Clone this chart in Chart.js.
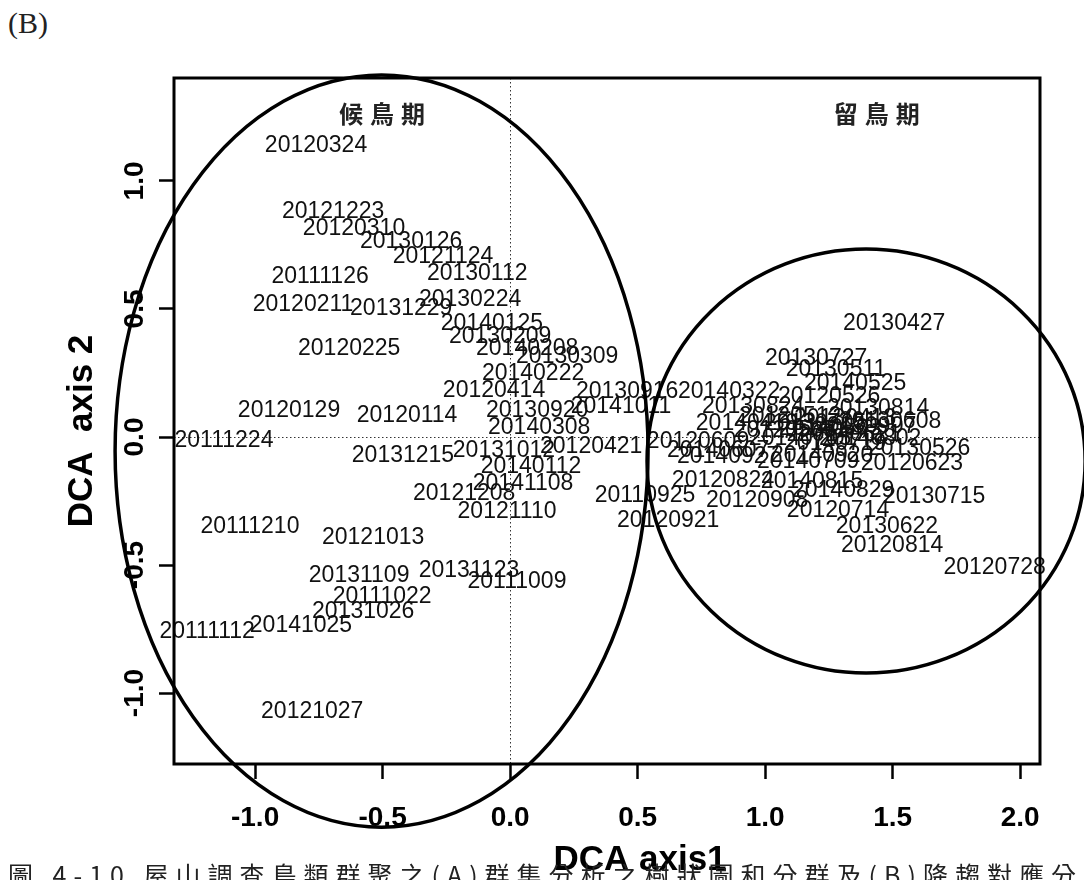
<!DOCTYPE html>
<html>
<head>
<meta charset="utf-8">
<title>DCA ordination of bird survey dates</title>
<script src="https://cdn.jsdelivr.net/npm/chart.js@4.4.1/dist/chart.umd.min.js"></script>
<style>
    html, body {
        margin: 0;
        padding: 0;
        background: #fff;
        overflow: hidden;
    }
    body {
        width: 1084px;
        height: 880px;
        position: relative;
    }
    canvas {
        position: absolute;
        left: 0;
        top: 0;
    }
    #panel {
        position: absolute;
        left: 8px;
        top: 6px;
        font-family: "Liberation Serif", serif;
        font-size: 30px;
        color: #222;
    }
    #caption {
        position: absolute;
        left: 8px;
        top: 856px;
        font-family: "Noto Sans CJK TC", sans-serif;
        font-size: 25px;
        letter-spacing: 7px;
        white-space: nowrap;
        color: #222;
    }
</style>
</head>
<body>
<div id="panel">(B)</div>
<canvas id="dcaChart" width="1084" height="880"></canvas>
<div id="caption">圖 4-10 屋山調查鳥類群聚之(A)群集分析之樹狀圖和分群及(B)降趨對應分析</div>
<script>
// survey dates and their site scores on DCA axes 1 and 2
const siteDates = [
    '20120324', '20121223', '20120310', '20130126', '20121124', '20130112',
    '20111126', '20120211', '20131229', '20130224', '20140125', '20130209',
    '20140208', '20130309', '20120225', '20140222', '20120414', '20120129',
    '20120114', '20130920', '20140308', '20111224', '20131215', '20131012',
    '20140112', '20141108', '20121208', '20121110', '20111210', '20121013',
    '20131109', '20131123', '20111009', '20111022', '20131026', '20141025',
    '20111112', '20121027', '20130916', '20141011', '20120421', '20110925',
    '20120921', '20140322', '20130427', '20130727', '20130511', '20140525',
    '20120526', '20130824', '20130814', '20130608', '20140419', '20120505',
    '20120512', '20130705', '20140503', '20130413', '20140621', '20130907',
    '20140705', '20140719', '20140802', '20120609', '20140607', '20140927',
    '20140709', '20140920', '20130526', '20120623', '20120824', '20140815',
    '20140829', '20120908', '20130715', '20120714', '20130622', '20120814',
    '20120728'
];
const axis1 = [
    -0.761, -0.694, -0.612, -0.388, -0.263, -0.129,
    -0.745, -0.812, -0.427, -0.157, -0.071, -0.039,
    0.067, 0.224, -0.631, 0.090, -0.063, -0.867,
    -0.404, 0.106, 0.114, -1.122, -0.420, -0.024,
    0.082, 0.051, -0.180, -0.012, -1.020, -0.537,
    -0.592, -0.161, 0.027, -0.502, -0.576, -0.820,
    -1.188, -0.776, 0.459, 0.435, 0.318, 0.529,
    0.620, 0.859, 1.506, 1.200, 1.278, 1.353,
    1.251, 0.953, 1.443, 1.490, 0.929, 1.078,
    1.098, 1.196, 1.255, 1.314, 1.333, 1.392,
    1.137, 1.275, 1.412, 0.737, 0.816, 0.855,
    1.169, 1.224, 1.604, 1.576, 0.835, 1.184,
    1.306, 0.969, 1.663, 1.286, 1.478, 1.498,
    1.900
];
const axis2 = [
    1.137, 0.879, 0.812, 0.762, 0.703, 0.637,
    0.625, 0.516, 0.500, 0.535, 0.441, 0.391,
    0.344, 0.313, 0.344, 0.246, 0.180, 0.102,
    0.082, 0.102, 0.035, -0.016, -0.074, -0.055,
    -0.117, -0.184, -0.223, -0.293, -0.352, -0.395,
    -0.543, -0.523, -0.566, -0.625, -0.684, -0.738,
    -0.762, -1.074, 0.176, 0.117, -0.039, -0.230,
    -0.328, 0.176, 0.441, 0.305, 0.262, 0.207,
    0.156, 0.117, 0.109, 0.059, 0.051, 0.023,
    0.078, 0.051, 0.031, 0.070, 0.008, 0.039,
    -0.008, -0.027, -0.008, -0.020, -0.055, -0.078,
    -0.098, -0.074, -0.047, -0.105, -0.172, -0.176,
    -0.211, -0.250, -0.234, -0.289, -0.352, -0.426,
    -0.512
];

const xTicks = [-1, -0.5, 0, 0.5, 1, 1.5, 2];
const yTicks = [-1, -0.5, 0, 0.5, 1];
const xTitle = 'DCA axis1';
const yTitle = 'DCA  axis 2';

// season groups: ellipse centre and half axes in DCA units, plus label position
const groupNames = ['候鳥期', '留鳥期'];
const groupCx = [-0.504, 1.396];
const groupCy = [-0.055, -0.094];
const groupRx = [1.045, 0.859];
const groupRy = [1.469, 0.828];
const groupLabelX = [-0.50, 1.44];
const groupLabelY = [1.262, 1.262];

const sans = '"Liberation Sans", Arial, sans-serif';

// draws the date labels, group ellipses, frame, rotated y tick labels and axis titles
const ordiPlugin = {
    id: 'ordiPlot',
    afterDatasetsDraw(chart) {
        const {ctx, chartArea: a, scales: {x, y}} = chart;
        const meta = chart.getDatasetMeta(0);
        ctx.save();
        ctx.textAlign = 'center';
        ctx.textBaseline = 'middle';

        ctx.font = '23px ' + sans;
        ctx.fillStyle = '#111';
        meta.data.forEach((pt, i) => ctx.fillText(siteDates[i], pt.x, pt.y));

        ctx.strokeStyle = '#000';
        ctx.lineWidth = 3.5;
        groupNames.forEach((name, i) => {
            const cx = x.getPixelForValue(groupCx[i]);
            const cy = y.getPixelForValue(groupCy[i]);
            const rx = Math.abs(x.getPixelForValue(groupCx[i] + groupRx[i]) - cx);
            const ry = Math.abs(y.getPixelForValue(groupCy[i] + groupRy[i]) - cy);
            ctx.beginPath();
            ctx.ellipse(cx, cy, rx, ry, 0, 0, Math.PI * 2);
            ctx.stroke();

            ctx.font = 'bold 24px "Noto Sans CJK TC", sans-serif';
            ctx.fillStyle = '#222';
            ctx.letterSpacing = '7px';
            ctx.fillText(name, x.getPixelForValue(groupLabelX[i]) + 3, y.getPixelForValue(groupLabelY[i]));
            ctx.letterSpacing = '0px';
        });

        ctx.lineWidth = 3;
        ctx.strokeRect(a.left, a.top, a.right - a.left, a.bottom - a.top);

        ctx.fillStyle = '#000';
        ctx.font = 'bold 28px ' + sans;
        yTicks.forEach(v => {
            ctx.save();
            ctx.translate(a.left - 39, y.getPixelForValue(v));
            ctx.rotate(-Math.PI / 2);
            ctx.fillText(v.toFixed(1), 0, 0);
            ctx.restore();
        });

        // axis titles sit a little off the plot centre, as in the R device
        ctx.font = 'bold 35px ' + sans;
        ctx.fillText(xTitle, (a.left + a.right) / 2 + 33, a.bottom + 96);
        ctx.save();
        ctx.translate(a.left - 92, (a.top + a.bottom) / 2 + 10);
        ctx.rotate(-Math.PI / 2);
        ctx.fillText(yTitle, 0, 0);
        ctx.restore();
        ctx.restore();
    }
};

// only the zero lines are drawn, dotted
const zeroGrid = {
    color: c => (c.tick && c.tick.value === 0) ? '#333' : 'rgba(0,0,0,0)',
    lineWidth: 1,
    tickColor: '#000',
    tickWidth: 2.5,
    tickLength: 15
};

new Chart(document.getElementById('dcaChart'), {
    type: 'scatter',
    data: {
        datasets: [{
            data: siteDates.map((d, i) => ({x: axis1[i], y: axis2[i]})),
            pointRadius: 0,
            pointHoverRadius: 0
        }]
    },
    options: {
        responsive: false,
        animation: false,
        events: [],
        layout: {padding: {top: 78, right: 44, left: 0, bottom: 0}},
        plugins: {legend: {display: false}, tooltip: {enabled: false}},
        scales: {
            x: {
                type: 'linear',
                min: -1.318,
                max: 2.078,
                afterBuildTicks: s => { s.ticks = xTicks.map(v => ({value: v})); },
                afterFit: s => { s.height = 116; },
                grid: zeroGrid,
                border: {display: false, dash: [1.5, 2.5]},
                ticks: {
                    color: '#000',
                    padding: 22,
                    autoSkip: false,
                    maxRotation: 0,
                    font: {family: sans, size: 28, weight: 'bold'},
                    callback: v => v.toFixed(1)
                }
            },
            y: {
                type: 'linear',
                min: -1.277,
                max: 1.402,
                afterBuildTicks: s => { s.ticks = yTicks.map(v => ({value: v})); },
                afterFit: s => { s.width = 174; },
                grid: zeroGrid,
                border: {display: false, dash: [1.5, 2.5]},
                ticks: {display: false}
            }
        }
    },
    plugins: [ordiPlugin]
});
</script>
</body>
</html>
